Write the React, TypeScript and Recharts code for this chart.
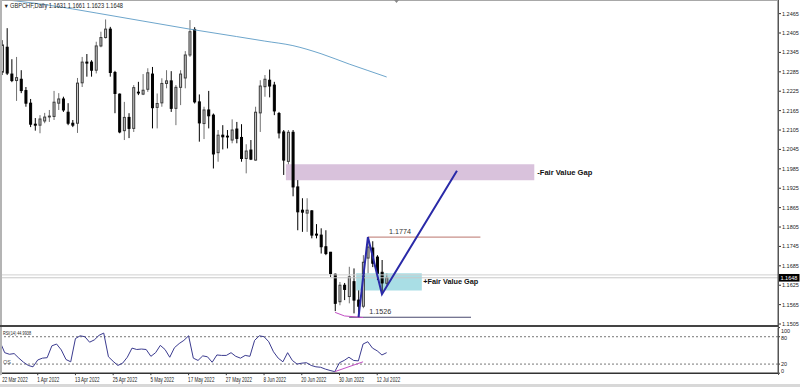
import React from "react";
import {
  ComposedChart,
  Bar,
  Line,
  XAxis,
  YAxis,
  ReferenceLine,
  ReferenceArea,
} from "recharts";

// GBPCHF daily candles, 22 Mar 2022 .. 14 Jul 2022
const opens = [
  1.2284, 1.2361, 1.2278, 1.2258, 1.2262, 1.2227, 1.2188, 1.2123, 1.212, 1.2133,
  1.2147, 1.2147, 1.2188, 1.2201, 1.216, 1.2126, 1.2126, 1.2251, 1.2315, 1.2315,
  1.229, 1.2365, 1.2391, 1.2417, 1.2283, 1.2216, 1.2103, 1.2144, 1.211, 1.2222,
  1.2216, 1.2231, 1.2278, 1.2175, 1.2189, 1.2249, 1.2257, 1.2172, 1.2237, 1.2266,
  1.2337, 1.2416, 1.2192, 1.2125, 1.2167, 1.2151, 1.2035, 1.2089, 1.2086, 1.2074,
  1.2108, 1.2082, 1.2017, 1.2043, 1.2012, 1.2158, 1.2239, 1.2259, 1.2244, 1.2156,
  1.2099, 1.2008, 1.2098, 1.1929, 1.1857, 1.1848, 1.1855, 1.1783, 1.178, 1.1744,
  1.1727, 1.1659, 1.1574, 1.1625, 1.159, 1.1636, 1.1579, 1.156, 1.1709, 1.174,
  1.1712, 1.1665, 1.1631,
];
const highs = [
  1.2383, 1.242, 1.2324, 1.2331, 1.229, 1.2238, 1.2201, 1.2142, 1.2151, 1.2158,
  1.2167, 1.2226, 1.2219, 1.2208, 1.2188, 1.2136, 1.2266, 1.2331, 1.234, 1.2321,
  1.2378, 1.2409, 1.2447, 1.2424, 1.2288, 1.2218, 1.2192, 1.2157, 1.2244, 1.2254,
  1.2278, 1.2296, 1.23, 1.2218, 1.2265, 1.229, 1.2287, 1.2244, 1.229, 1.2349,
  1.2445, 1.2423, 1.2215, 1.2177, 1.2226, 1.2156, 1.2105, 1.212, 1.2105, 1.2138,
  1.213, 1.2123, 1.2061, 1.2074, 1.2177, 1.2259, 1.2275, 1.2292, 1.2254, 1.2161,
  1.2105, 1.2105, 1.2105, 1.195, 1.1894, 1.1894, 1.1857, 1.1814, 1.1801, 1.1795,
  1.1728, 1.1661, 1.1635, 1.1632, 1.1682, 1.1677, 1.1609, 1.1718, 1.1774, 1.1761,
  1.1718, 1.1703, 1.1661,
];
const lows = [
  1.2275, 1.2275, 1.2253, 1.2195, 1.2219, 1.2177, 1.2114, 1.2103, 1.2095, 1.2126,
  1.213, 1.2136, 1.2167, 1.2161, 1.212, 1.2114, 1.2096, 1.2238, 1.227, 1.227,
  1.228, 1.2361, 1.2388, 1.227, 1.2157, 1.2095, 1.2074, 1.208, 1.2099, 1.2213,
  1.2213, 1.2223, 1.211, 1.211, 1.2177, 1.2234, 1.2161, 1.212, 1.2182, 1.2234,
  1.2331, 1.2187, 1.2069, 1.2077, 1.211, 1.1986, 1.2007, 1.2045, 1.2048, 1.2064,
  1.2064, 1.2007, 1.1971, 1.2012, 1.201, 1.2099, 1.2208, 1.2206, 1.2151, 1.2079,
  1.1966, 1.1999, 1.19, 1.1795, 1.179, 1.179, 1.177, 1.177, 1.1723, 1.1718,
  1.1651, 1.1545, 1.1563, 1.1579, 1.1569, 1.1538, 1.1526, 1.1554, 1.1662, 1.1681,
  1.1641, 1.1604, 1.1623,
];
const closes = [
  1.2368, 1.2281, 1.2258, 1.2267, 1.2227, 1.2188, 1.2123, 1.212, 1.2139, 1.2145,
  1.2148, 1.2191, 1.2201, 1.2167, 1.2126, 1.212, 1.225, 1.2315, 1.2312, 1.229,
  1.2365, 1.2391, 1.2417, 1.2283, 1.2218, 1.2099, 1.2144, 1.211, 1.2236, 1.222,
  1.2228, 1.2282, 1.2174, 1.2187, 1.2249, 1.2257, 1.2172, 1.2237, 1.2278, 1.2337,
  1.2409, 1.2192, 1.2127, 1.2167, 1.2149, 1.2031, 1.2089, 1.2084, 1.2085, 1.2105,
  1.2079, 1.2017, 1.204, 1.2015, 1.216, 1.2241, 1.2262, 1.2241, 1.2164, 1.2096,
  1.2012, 1.2098, 1.1929, 1.1852, 1.1851, 1.1857, 1.178, 1.178, 1.1744, 1.1723,
  1.1661, 1.1569, 1.1625, 1.1612, 1.1651, 1.1579, 1.156, 1.1696, 1.1743, 1.1693,
  1.1662, 1.1632, 1.1648,
];

// RSI(14), one value per candle
const rsiValues = [
  69, 45, 41.5, 43, 33, 24, 17, 14, 29, 33, 34, 60, 64, 51, 30, 25, 76, 82, 80, 68,
  73, 83, 88, 36, 26, 17, 22, 35, 55, 52, 53, 52, 37, 45, 61, 52, 35, 56, 65, 72,
  82, 33, 28, 38, 36, 24, 40, 39, 39, 45, 37, 33, 39, 37, 72, 82, 80, 69, 47, 33,
  25, 45, 28, 20, 22, 23, 17, 14, 13, 9, 6, 3.4, 23, 28, 35, 28, 27, 64, 69, 55,
  49, 40, 44.99,
];

const dateLabels = [
  "22 Mar 2022", "1 Apr 2022", "13 Apr 2022", "25 Apr 2022", "5 May 2022",
  "17 May 2022", "27 May 2022", "8 Jun 2022", "20 Jun 2022", "30 Jun 2022",
  "12 Jul 2022",
];
const DATE_STEP = 8;

const priceTicks = [
  1.2465, 1.2405, 1.2345, 1.2285, 1.2225, 1.2165, 1.2105, 1.2045, 1.1985,
  1.1925, 1.1865, 1.1805, 1.1745, 1.1685, 1.1625, 1.1565, 1.1505,
];
const rsiTicks = [0, 20, 80, 100];

// slow moving average, [bar, price]
const maPoints: [number, number][] = [
  [0, 1.2509], [3, 1.2504], [10, 1.2491], [20, 1.2467], [30, 1.2442],
  [40, 1.2417], [50, 1.2394], [56, 1.238], [62, 1.2366], [68, 1.2341],
  [74, 1.2309], [78, 1.2289], [82, 1.2269],
];
const zigzag: [number, number][] = [[76, 1.1526], [78, 1.1774], [81, 1.1597], [97, 1.1979]];
const priceDivergence: [number, number][] = [[71, 1.1541], [73, 1.153], [77, 1.1525]];
const rsiDivergence: [number, number][] = [[71, 3.4], [77, 25]];

const bearGap = { from: 61, to: 113, top: 1.1999, bottom: 1.195 };
const bullGap = { from: 76, to: 89, top: 1.1662, bottom: 1.16085 };
const swingHigh = { price: 1.1774, from: 78, to: 102 };
const swingLow = { price: 1.1526, from: 74, to: 100 };
const bid = 1.1648;
const ask = 1.1657;

const SLOTS = 166;
const FONT = "'Liberation Sans', Arial, sans-serif";

const rows = Array.from({ length: SLOTS }, (_, i) => {
  const row: any = { i };
  if (i < opens.length) {
    row.o = opens[i];
    row.h = highs[i];
    row.l = lows[i];
    row.c = closes[i];
    row.lh = [lows[i], highs[i]];
    row.rsi = rsiValues[i];
  }
  return row;
});
maPoints.forEach(([i, v]) => (rows[i].ma = v));
zigzag.forEach(([i, v]) => (rows[i].zig = v));
priceDivergence.forEach(([i, v]) => (rows[i].pdiv = v));
rsiDivergence.forEach(([i, v]) => (rows[i].rdiv = v));

function Candle(props: any) {
  const { x, y, width, height, payload } = props;
  if (!payload || payload.o == null || !isFinite(y) || !isFinite(height)) return <g />;
  const top = Math.min(y, y + height);
  const hgt = Math.abs(height);
  const { o, c, h, l } = payload;
  const k = hgt / (h - l);
  const cx = x + width / 2;
  const yO = top + (h - o) * k;
  const yC = top + (h - c) * k;
  const bull = c >= o;
  const bTop = Math.min(yO, yC);
  const bH = Math.max(Math.abs(yO - yC), 0.8);
  return (
    <g>
      <line x1={cx} x2={cx} y1={top} y2={top + hgt} stroke={bull ? "#707070" : "#000"} strokeWidth={1} />
      <rect
        x={cx - 1}
        y={bTop}
        width={2}
        height={bH}
        fill={bull ? "#c8c8c8" : "#000"}
        stroke={bull ? "#3c3c3c" : "#000"}
        strokeWidth={1}
      />
    </g>
  );
}

function PriceTick({ x, y, payload }: any) {
  return (
    <text x={x} y={y} dy={2} fontSize={5.5} fontFamily={FONT} fill="#222">
      {Number(payload.value).toFixed(4)}
    </text>
  );
}

function RsiTick({ x, y, payload }: any) {
  const v = payload.value;
  const shift = v === 100 ? 3.5 : v === 80 ? 1 : v === 0 ? -2 : 0;
  return (
    <text x={x} y={y + shift} dy={2} fontSize={5.5} fontFamily={FONT} fill="#222">
      {v}
    </text>
  );
}

function DateTick({ x, y, payload }: any) {
  const idx = Number(payload.value);
  const n = idx / DATE_STEP;
  if (idx % DATE_STEP !== 0 || n >= dateLabels.length) return <g />;
  const tx = Math.max(x - 0.5, 2.2);
  return (
    <g>
      <line x1={x} x2={x} y1={y} y2={y + 2} stroke="#333" />
      <text
        x={tx}
        y={y + 9}
        fontSize={6.5}
        fontFamily={FONT}
        fill="#222"
        transform={`translate(${tx},0) scale(0.7,1) translate(${-tx},0)`}
      >
        {dateLabels[n]}
      </text>
    </g>
  );
}

function GapLabel({ viewBox, text, gap }: any) {
  if (!viewBox) return null;
  return (
    <text
      x={viewBox.x + viewBox.width + gap}
      y={viewBox.y + viewBox.height / 2 + 2.5}
      fontSize={7}
      fontWeight="bold"
      fontFamily={FONT}
      fill="#111"
      textLength={55}
      lengthAdjust="spacingAndGlyphs"
    >
      {text}
    </text>
  );
}

function LevelLabel({ viewBox, text, dx }: any) {
  if (!viewBox) return null;
  return (
    <text x={viewBox.x + dx} y={viewBox.y - 3} fontSize={7} fontFamily={FONT} fill="#333" textLength={22} lengthAdjust="spacingAndGlyphs">
      {text}
    </text>
  );
}

function PriceBadge({ viewBox }: any) {
  if (!viewBox) return null;
  const x = viewBox.x + viewBox.width + 1;
  return (
    <g>
      <rect x={x} y={viewBox.y - 3.8} width={20.5} height={7.6} fill="#000" />
      <text x={x + 1.5} y={viewBox.y + 2.2} fontSize={5.5} fontFamily={FONT} fill="#fff">
        {bid.toFixed(4)}
      </text>
    </g>
  );
}

export default function App() {
  return (
    <div style={{ position: "absolute", left: 0, top: 0, width: 800, height: 387, background: "#fff", overflow: "hidden" }}>
      <div style={{ position: "absolute", left: 0, top: 0 }}>
        <ComposedChart width={800} height={326} data={rows} margin={{ top: 1, right: 0, bottom: 1, left: 0 }} barCategoryGap={0}>
          <XAxis dataKey="i" hide />
          <YAxis
            orientation="right"
            width={22}
            domain={[1.1502, 1.2504]}
            allowDataOverflow
            ticks={priceTicks}
            interval={0}
            tick={<PriceTick />}
            tickSize={3}
            tickMargin={1}
            tickLine={{ stroke: "#333" }}
            axisLine={{ stroke: "#555" }}
          />
          <ReferenceArea
            x1={bearGap.from}
            x2={bearGap.to}
            y1={bearGap.bottom}
            y2={bearGap.top}
            fill="#d9c2dc"
            fillOpacity={1}
            stroke="none"
            label={<GapLabel text="-Fair Value Gap" gap={3} />}
          />
          <ReferenceArea
            x1={bullGap.from}
            x2={bullGap.to}
            y1={bullGap.bottom}
            y2={bullGap.top}
            fill="#a9dee5"
            fillOpacity={1}
            stroke="none"
            label={<GapLabel text="+Fair Value Gap" gap={1.5} />}
          />
          <ReferenceLine y={ask} stroke="#d0d0d0" />
          <ReferenceLine y={bid} stroke="#c8c8c8" label={<PriceBadge />} />
          <ReferenceLine
            segment={[{ x: swingHigh.from, y: swingHigh.price }, { x: swingHigh.to, y: swingHigh.price }]}
            stroke="#c8908a"
            strokeWidth={1.2}
            label={<LevelLabel text={swingHigh.price.toFixed(4)} dx={21} />}
          />
          <ReferenceLine
            segment={[{ x: swingLow.from, y: swingLow.price }, { x: swingLow.to, y: swingLow.price }]}
            stroke="#48486e"
            strokeWidth={1.2}
            label={<LevelLabel text={swingLow.price.toFixed(4)} dx={20} />}
          />
          <Bar dataKey="lh" shape={(p: any) => <Candle {...p} />} isAnimationActive={false} />
          <Line dataKey="ma" type="monotone" stroke="#6ea6cc" strokeWidth={1} dot={false} connectNulls isAnimationActive={false} />
          <Line dataKey="pdiv" type="linear" stroke="#c24fc4" strokeWidth={1} dot={false} connectNulls isAnimationActive={false} />
          <Line dataKey="zig" type="linear" stroke="#2a2aa8" strokeWidth={2} dot={false} connectNulls isAnimationActive={false} />
        </ComposedChart>
      </div>

      <div style={{ position: "absolute", left: 0, top: 326 }}>
        <ComposedChart width={800} height={61} data={rows} margin={{ top: 1.6, right: 0, bottom: 0, left: 0 }}>
          <XAxis
            dataKey="i"
            interval={0}
            height={13.8}
            tick={<DateTick />}
            tickLine={false}
            tickSize={0}
            tickMargin={0}
            axisLine={{ stroke: "#333", strokeWidth: 1.5 }}
          />
          <YAxis
            orientation="right"
            width={22}
            domain={[0, 100]}
            ticks={rsiTicks}
            interval={0}
            tick={<RsiTick />}
            tickSize={2}
            tickMargin={1}
            tickLine={{ stroke: "#333" }}
            axisLine={{ stroke: "#555" }}
          />
          <ReferenceLine y={80} stroke="#777" strokeDasharray="2 2" />
          <ReferenceLine y={20} stroke="#777" strokeDasharray="2 2" />
          <Line dataKey="rsi" type="linear" stroke="#3b3b8f" strokeWidth={1} dot={false} isAnimationActive={false} />
          <Line dataKey="rdiv" type="linear" stroke="#c24fc4" strokeWidth={1} dot={false} connectNulls isAnimationActive={false} />
        </ComposedChart>
      </div>

      {/* window frame */}
      <div style={{ position: "absolute", left: 0, top: 0, width: 778, height: 1, background: "#a8a8a8" }} />
      <div style={{ position: "absolute", left: 0, top: 0, width: 2, height: 375, background: "#b4b4b4" }} />
      <div style={{ position: "absolute", left: 0, top: 325, width: 778, height: 1.5, background: "#444" }} />
      <div style={{ position: "absolute", left: 777.5, top: 0, width: 1, height: 375, background: "#555" }} />
      <div style={{ position: "absolute", left: 0, top: 384, width: 800, height: 3, background: "#d8d8d8" }} />

      <svg width={800} height={387} style={{ position: "absolute", left: 0, top: 0, pointerEvents: "none" }}>
        <text x={3.5} y={7.8} fontSize={5.5} fontFamily={FONT} fill="#222">▼</text>
        <text x={10} y={7.8} fontSize={6.5} fontFamily={FONT} fill="#222" textLength={113} lengthAdjust="spacingAndGlyphs">
          GBPCHF,Daily  1.1631 1.1661 1.1623 1.1648
        </text>
        <polygon points="394,0 399,0 396.5,3" fill="#888" />
        <text x={3} y={335} fontSize={5.5} fontFamily={FONT} fill="#222" textLength={28} lengthAdjust="spacingAndGlyphs">
          RSI(14) 44.9938
        </text>
        <text x={3} y={364} fontSize={5.5} fontFamily={FONT} fill="#555">OS</text>
      </svg>
    </div>
  );
}
